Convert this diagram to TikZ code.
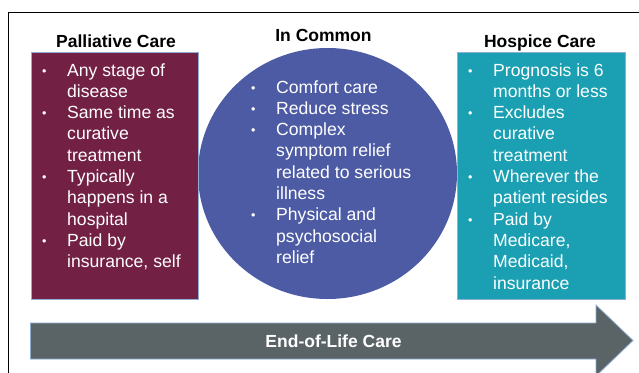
\documentclass[tikz,border=0pt]{standalone}
\usepackage{fontspec}
\setmainfont{Liberation Sans}
\usetikzlibrary{shapes.geometric}

\definecolor{palMaroon}{HTML}{732045}
\definecolor{commonBlue}{HTML}{4D5BA5}
\definecolor{hospTeal}{HTML}{1AA0B2}
\definecolor{arrowGray}{HTML}{5A6466}
\definecolor{edgeBlue}{HTML}{8FAED3}

\tikzset{
  title/.style={font=\fontsize{17.5}{21}\selectfont\bfseries, anchor=base, inner sep=0pt},
  listtext/.style={font=\fontsize{17.6}{21.3}\selectfont, text=white, anchor=base west, inner sep=0pt},
  careBox/.style={draw=edgeBlue, line width=0.8pt},
}

% bullet list: one row per printed line
\newcommand{\itm}{\makebox[25pt][l]{\raisebox{1pt}{\fontsize{12.5}{12.5}\selectfont\textbullet}}}

\begin{document}
\begin{tikzpicture}[x=1pt, y=-1pt]
\useasboundingbox (0,0) rectangle (639,372);
\clip (0,0) rectangle (639,372);

% outer frame
\draw[line width=1.4pt] (8.5,400) -- (8.5,12.5) -- (660,12.5);

% middle bubble
\node[ellipse, fill=commonBlue, minimum width=259pt, minimum height=251pt, inner sep=0pt]
  (commonBubble) at (327.5,173.5) {};

% side boxes
\draw[careBox, fill=palMaroon] (31,52) rectangle (198,299);
\draw[careBox, fill=hospTeal] (457,52) rectangle (625,299);

% column titles
\node[title] (palTitle) at (116,47.5) {Palliative Care};
\node[title] (commonTitle) at (323.5,41.5) {In Common};
\node[title] (hospTitle) at (540,47.5) {Hospice Care};

% lists
\node[listtext] (palList) at (42,76) {%
  \begin{tabular}[t]{@{}l@{}l@{}}
  \itm & Any stage of\\
       & disease\\
  \itm & Same time as\\
       & curative\\
       & treatment\\
  \itm & Typically\\
       & happens in a\\
       & hospital\\
  \itm & Paid by\\
       & insurance, self
  \end{tabular}};

\node[listtext] (commonList) at (251,93) {%
  \begin{tabular}[t]{@{}l@{}l@{}}
  \itm & Comfort care\\
  \itm & Reduce stress\\
  \itm & Complex\\
       & symptom relief\\
       & related to serious\\
       & illness\\
  \itm & Physical and\\
       & psychosocial\\
       & relief
  \end{tabular}};

\node[listtext] (hospList) at (468,76) {%
  \begin{tabular}[t]{@{}l@{}l@{}}
  \itm & Prognosis is 6\\
       & months or less\\
  \itm & Excludes\\
       & curative\\
       & treatment\\
  \itm & Wherever the\\
       & patient resides\\
  \itm & Paid by\\
       & Medicare,\\
       & Medicaid,\\
       & insurance
  \end{tabular}};

% time line arrow
\draw[careBox, fill=arrowGray]
  (30.5,323) -- (596,323) -- (596,305) -- (633,340.5) -- (596,376)
  -- (596,359) -- (30.5,359) -- cycle;
\node[title, anchor=center, text=white] (lifeLabel) at (333.5,341) {End-of-Life Care};

\end{tikzpicture}
\end{document}
